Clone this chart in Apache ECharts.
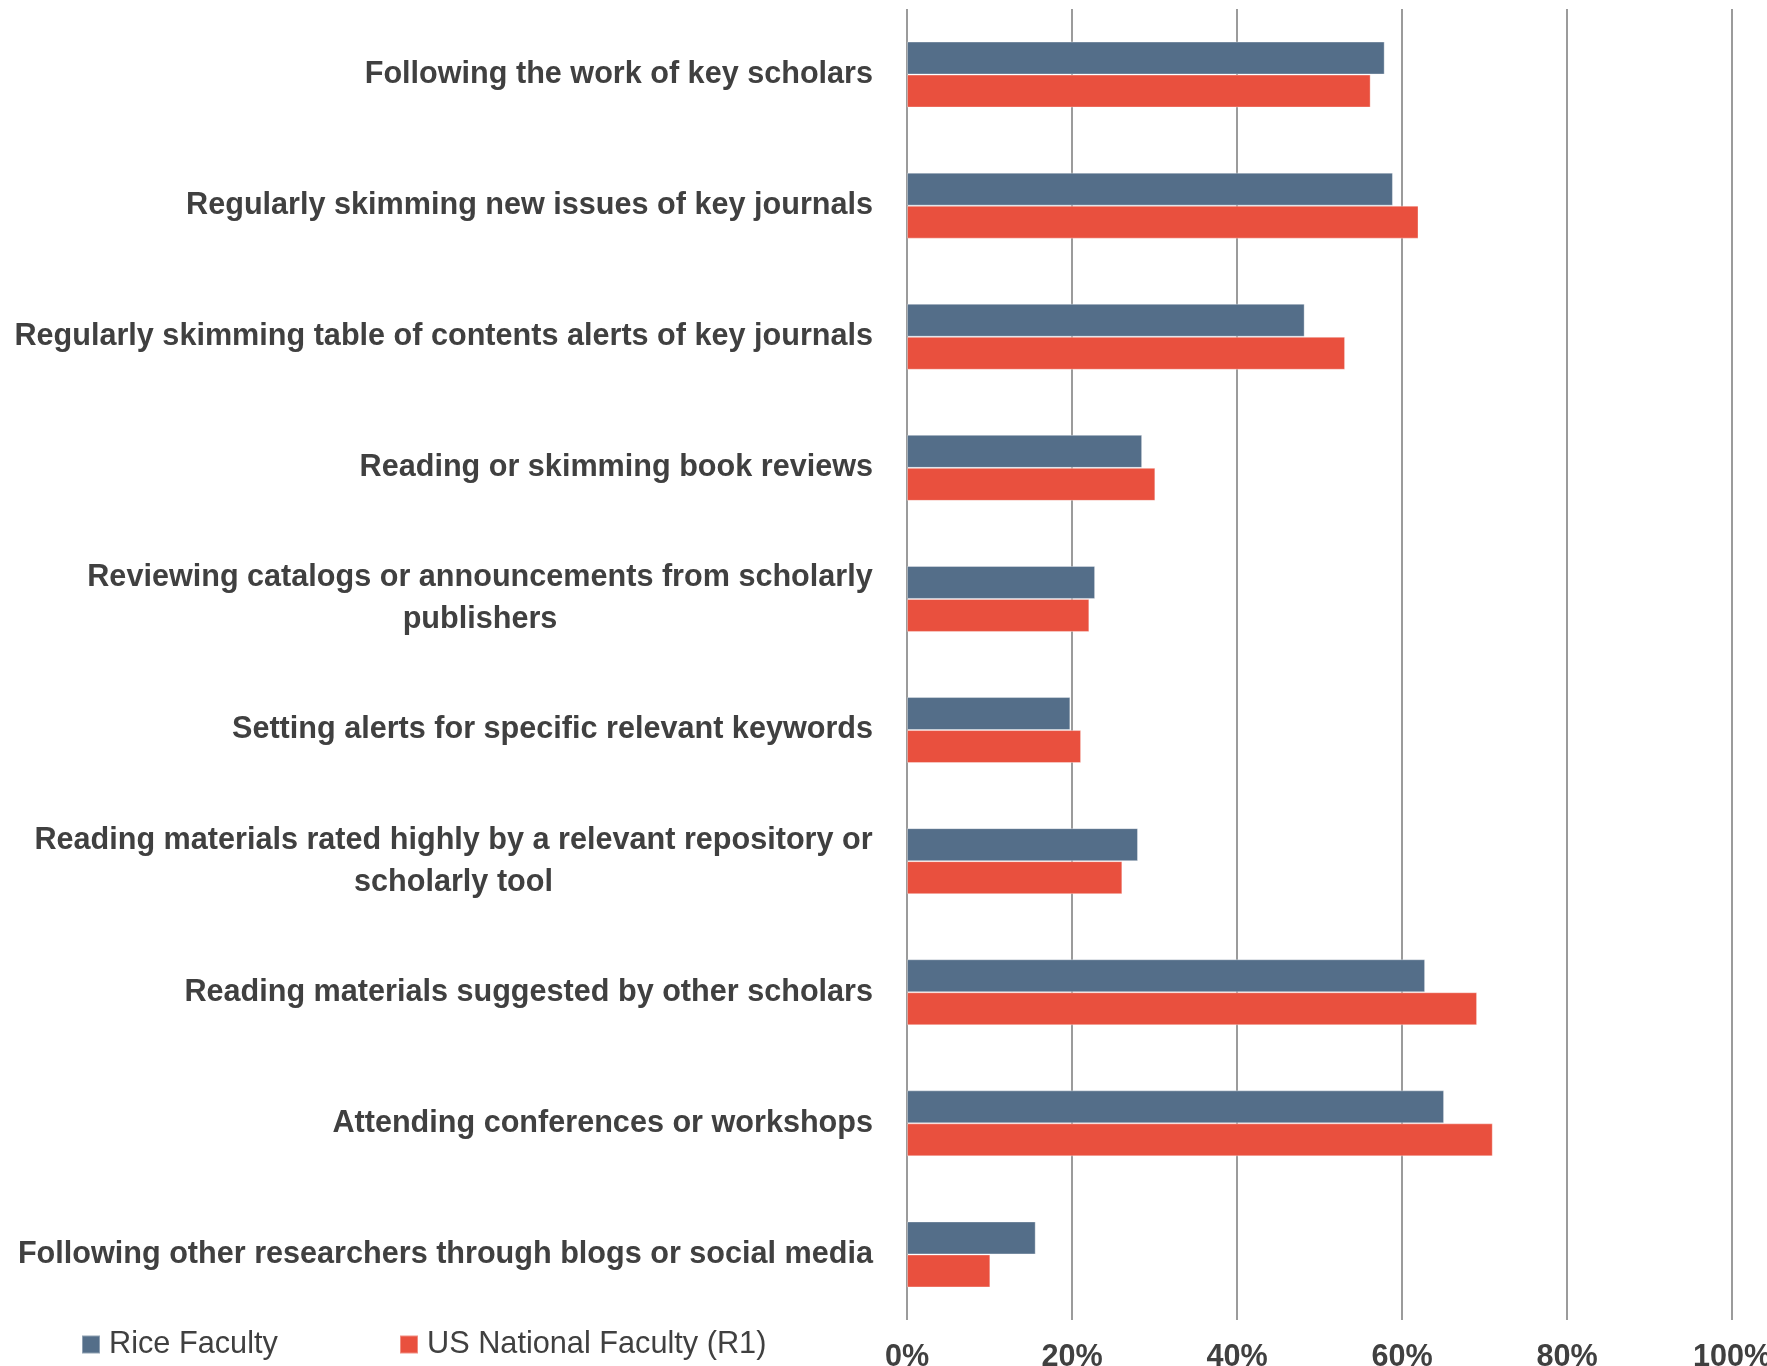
<!DOCTYPE html>
<html>
<head>
<meta charset="utf-8">
<script src="https://cdn.jsdelivr.net/npm/echarts@6/dist/echarts.min.js"></script>
<style>
  html, body { margin: 0; padding: 0; background: #ffffff; }
  #chart { width: 1767px; height: 1366px; }
</style>
</head>
<body>
<div id="chart"></div>
<script>
// Ways faculty keep up with research in their field (share of respondents, %)
const categories = [
  'Following the work of key scholars',
  'Regularly skimming new issues of key journals',
  'Regularly skimming table of contents alerts of key journals',
  'Reading or skimming book reviews',
  'Reviewing catalogs or announcements from scholarly\npublishers',
  'Setting alerts for specific relevant keywords',
  'Reading materials rated highly by a relevant repository or\nscholarly tool',
  'Reading materials suggested by other scholars',
  'Attending conferences or workshops',
  'Following other researchers through blogs or social media'
];
const riceFaculty = [57.9, 58.9, 48.2, 28.5, 22.8, 19.8, 28.0, 62.8, 65.1, 15.6];
const usNationalFaculty = [56.2, 62.0, 53.1, 30.1, 22.1, 21.1, 26.1, 69.1, 71.0, 10.1];
const tickLabels = ['0%', '20%', '40%', '60%', '80%', '100%'];
const seriesNames = ['Rice Faculty', 'US National Faculty (R1)'];

const FONT = "'Liberation Sans', Arial, sans-serif";
const TEXT = '#404040';
const LABEL_SIZE = 30.6;

// Multi-line category labels: lines centred on each other, block right-aligned
const ctx = document.createElement('canvas').getContext('2d');
ctx.font = 'bold ' + LABEL_SIZE + 'px ' + FONT;
const rich = {};
categories.forEach((c, i) => {
  if (c.indexOf('\n') >= 0) {
    const w = Math.max(...c.split('\n').map(l => ctx.measureText(l).width));
    rich['m' + i] = {
      width: Math.ceil(w), align: 'center',
      fontFamily: FONT, fontWeight: 'bold', fontSize: LABEL_SIZE,
      color: TEXT, lineHeight: 42
    };
  }
});

const legendText = { fontFamily: FONT, fontSize: 30.7, color: TEXT, padding: [0, 0, 0, 4] };

const chart = echarts.init(document.getElementById('chart'));
chart.setOption({
  backgroundColor: '#ffffff',
  animation: false,
  grid: { left: 907, right: 35, top: 9, bottom: 46, containLabel: false, outerBoundsMode: 'none' },
  legend: [
    {
      data: [seriesNames[0]], left: 81, top: 1329, padding: 0,
      itemWidth: 18, itemHeight: 18, icon: 'rect', textStyle: legendText
    },
    {
      data: [seriesNames[1]], left: 399, top: 1329, padding: 0,
      itemWidth: 18, itemHeight: 18, icon: 'rect', textStyle: legendText
    }
  ],
  xAxis: {
    type: 'value', min: 0, max: 100, interval: 20,
    axisLine: { show: false }, axisTick: { show: false },
    splitLine: { show: true, lineStyle: { color: '#828282', width: 1.6 } },
    axisLabel: {
      margin: 22, fontFamily: FONT, fontWeight: 'bold', fontSize: LABEL_SIZE, color: TEXT,
      formatter: v => tickLabels[Math.round(v / 20)]
    }
  },
  yAxis: {
    type: 'category', data: categories, inverse: true,
    axisLine: { show: false }, axisTick: { show: false }, splitLine: { show: false },
    axisLabel: {
      margin: 34, fontFamily: FONT, fontWeight: 'bold', fontSize: LABEL_SIZE, color: TEXT,
      lineHeight: 42, rich: rich,
      formatter: (v, i) => v.indexOf('\n') >= 0
        ? v.split('\n').map(l => '{m' + i + '|' + l + '}').join('\n')
        : v
    }
  },
  series: [
    {
      name: seriesNames[0], type: 'bar', data: riceFaculty,
      barWidth: 33, barGap: '0%',
      itemStyle: { color: '#546E89', borderColor: 'rgba(255,255,255,0.35)', borderWidth: 1 }
    },
    {
      name: seriesNames[1], type: 'bar', data: usNationalFaculty,
      barWidth: 33, barGap: '0%',
      itemStyle: { color: '#E9503E', borderColor: 'rgba(255,255,255,0.35)', borderWidth: 1 }
    }
  ]
});
</script>
</body>
</html>
